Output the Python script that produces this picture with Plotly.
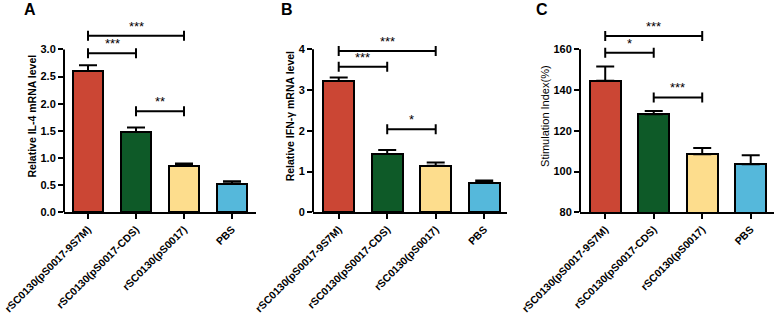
import plotly.graph_objects as go

categories = ["rSC0130(pS0017-9S7M)", "rSC0130(pS0017-CDS)", "rSC0130(pS0017)", "PBS"]
colors = ["#CB4634", "#0E5A28", "#FDDD8D", "#55B8DB"]

il4_mean = [2.60, 1.48, 0.86, 0.53]
il4_err = [0.11, 0.08, 0.04, 0.04]
ifn_mean = [3.22, 1.43, 1.14, 0.73]
ifn_err = [0.09, 0.10, 0.08, 0.05]
si_mean = [144.6, 128.1, 108.5, 103.6]
si_err = [6.9, 1.6, 3.1, 4.4]

il4_sig = [(0, 2, 3.25, "***"), (0, 1, 2.93, "***"), (1, 2, 1.86, "**")]
ifn_sig = [(0, 2, 3.96, "***"), (0, 1, 3.57, "***"), (1, 2, 2.04, "*")]
si_sig = [(0, 2, 166.5, "***"), (0, 1, 158.3, "*"), (1, 2, 136.4, "***")]

W, H = 777, 314
ybot_px, ytop_px = 212.3, 20
panels = [
    dict(mean=il4_mean, err=il4_err, sig=il4_sig, title="Relative IL-4 mRNA level", tbold=True,
         y0=0, yaxis_top=3.0, ppu=54.3, ticks=[0, 0.5, 1.0, 1.5, 2.0, 2.5, 3.0], fmt=".1f",
         dom=(64, 256), xr=(-0.5, 3.5), letter="A", lx=30),
    dict(mean=ifn_mean, err=ifn_err, sig=ifn_sig, title="Relative IFN-γ mRNA level", tbold=True,
         y0=0, yaxis_top=4, ppu=40.75, ticks=[0, 1, 2, 3, 4], fmt="d",
         dom=(313, 507), xr=(-0.53, 3.47), letter="B", lx=287),
    dict(mean=si_mean, err=si_err, sig=si_sig, title="Stimulation Index(%)", tbold=False,
         y0=80, yaxis_top=160, ppu=2.0375, ticks=[80, 100, 120, 140, 160], fmt="d",
         dom=(580, 774), xr=(-0.52, 3.48), letter="C", lx=542),
]

fig = go.Figure()
FONT = "Liberation Sans, Arial, sans-serif"
shapes = []
annotations = []
xs = list(range(len(categories)))

for k, p in enumerate(panels, start=1):
    xa = "x" if k == 1 else f"x{k}"
    ya = "y" if k == 1 else f"y{k}"
    fig.add_trace(go.Bar(
        x=xs, y=p["mean"], xaxis=xa, yaxis=ya, width=0.64,
        marker=dict(color=colors, line=dict(color="black", width=2)),
        error_y=dict(type="data", array=p["err"], arrayminus=[0] * 4, symmetric=False,
                     color="black", thickness=2, width=9),
        showlegend=False,
    ))
    ymax = p["y0"] + (ybot_px - ytop_px) / p["ppu"]
    suffix = "" if k == 1 else str(k)
    fig.update_layout(**{
        f"xaxis{suffix}": dict(
            domain=[p["dom"][0] / W, p["dom"][1] / W], range=list(p["xr"]),
            tickvals=xs, ticktext=categories, tickangle=-45, automargin=False,
            ticklabeloverflow="allow",
            showline=True, linecolor="black", linewidth=2,
            ticks="outside", ticklen=5, tickwidth=2, tickcolor="black",
            tickfont=dict(family=FONT, size=10.5, color="black", weight="bold"),
            showgrid=False, zeroline=False, anchor=ya,
        ),
        f"yaxis{suffix}": dict(
            domain=[1 - ybot_px / H, 1 - ytop_px / H], range=[p["y0"], ymax],
            tickvals=p["ticks"], tickformat=p["fmt"], automargin=False,
            showline=False, ticks="outside", ticklen=5, tickwidth=2, tickcolor="black",
            tickfont=dict(family=FONT, size=11, color="black", weight="bold"),
            showgrid=False, zeroline=False, anchor=xa,
            title=dict(text=p["title"], standoff=1,
                       font=dict(family=FONT, size=10.5 if p["tbold"] else 11, color="black",
                                 weight="bold" if p["tbold"] else "normal")),
        ),
    })
    # y axis line only up to top tick
    shapes.append(dict(type="line", xref=f"{xa} domain", yref=ya, x0=0, x1=0,
                       y0=p["y0"], y1=p["yaxis_top"], line=dict(color="black", width=2)))
    d = 5 / p["ppu"]
    for (i, j, yv, lab) in p["sig"]:
        path = (f"M {i},{yv - d} L {i},{yv + d} M {i},{yv} L {j},{yv} "
                f"M {j},{yv - d} L {j},{yv + d}")
        shapes.append(dict(type="path", xref=xa, yref=ya, path=path,
                           line=dict(color="black", width=2)))
        annotations.append(dict(x=(i + j) / 2, y=yv, xref=xa, yref=ya, text=lab,
                                showarrow=False, yanchor="bottom", yshift=0,
                                font=dict(family=FONT, size=13, color="black")))
    annotations.append(dict(x=p["lx"] / W, y=1 - 10 / H, xref="paper", yref="paper",
                            text=p["letter"], showarrow=False, xanchor="center", yanchor="middle",
                            font=dict(family=FONT, size=16, color="black", weight="bold")))

fig.update_layout(
    width=W, height=H, margin=dict(l=0, r=0, t=0, b=0),
    paper_bgcolor="white", plot_bgcolor="white",
    shapes=shapes, annotations=annotations, bargap=0,
)
fig.write_html("out.html")
